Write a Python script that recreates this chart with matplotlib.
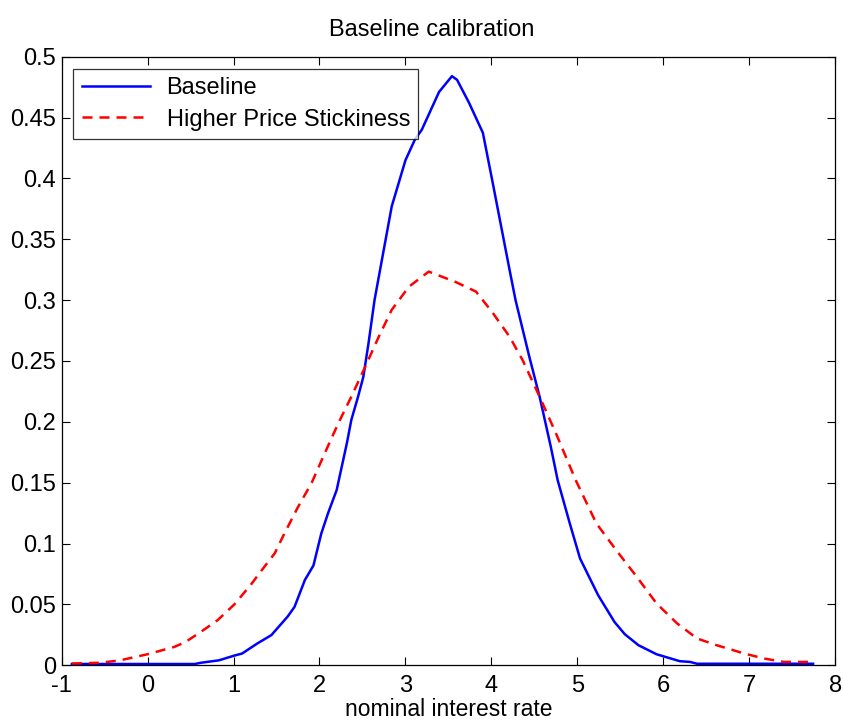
import matplotlib
matplotlib.use("Agg")
import matplotlib.pyplot as plt

# ----------- DATA -----------

rate_baseline = [-0.88, 0.55, 0.62, 0.83, 1.0, 1.1, 1.28, 1.44, 1.63, 1.71, 1.83, 1.93,
                 2.02, 2.10, 2.20, 2.32, 2.37, 2.45, 2.51, 2.57, 2.64, 2.84, 3.0, 3.11,
                 3.19, 3.39, 3.54, 3.6, 3.74, 3.9, 4.01, 4.21, 4.28, 4.44, 4.56, 4.69,
                 4.77, 4.91, 5.03, 5.24, 5.43, 5.55, 5.71, 5.92, 6.19, 6.31, 6.39, 7.74]
dens_baseline = [0.001, 0.001, 0.002, 0.004, 0.0077, 0.0096, 0.018, 0.0247, 0.040, 0.048,
                 0.070, 0.082, 0.108, 0.125, 0.144, 0.183, 0.2015, 0.221, 0.237, 0.2645,
                 0.30, 0.377, 0.415, 0.432, 0.44, 0.471, 0.484, 0.481, 0.462, 0.4375,
                 0.398, 0.325, 0.30, 0.2535, 0.2206, 0.1795, 0.152, 0.1167, 0.0877,
                 0.0576, 0.0356, 0.0255, 0.0164, 0.009, 0.0033, 0.0027, 0.0012, 0.0012]

rate_sticky = [-0.88, -0.55, -0.32, 0.0, 0.31, 0.44, 0.62, 0.815, 1.01, 1.20, 1.36, 1.48,
               1.59, 1.75, 1.91, 2.06, 2.22, 2.37, 2.53, 2.69, 2.84, 3.04, 3.27, 3.58,
               3.82, 4.01, 4.21, 4.36, 4.56, 4.75, 4.98, 5.22, 5.45, 5.69, 5.92, 6.16,
               6.39, 6.62, 6.94, 7.17, 7.40, 7.72]
dens_sticky = [0.0014, 0.002, 0.004, 0.009, 0.015, 0.019, 0.0274, 0.037, 0.050, 0.066,
               0.081, 0.092, 0.108, 0.130, 0.150, 0.174, 0.199, 0.2206, 0.245, 0.27,
               0.292, 0.311, 0.3234, 0.315, 0.307, 0.29, 0.27, 0.251, 0.2206, 0.1905,
               0.152, 0.1165, 0.0946, 0.0726, 0.0507, 0.0343, 0.022, 0.0164, 0.0096,
               0.0055, 0.0027, 0.0027]

x_ticks = [-1, 0, 1, 2, 3, 4, 5, 6, 7, 8]
y_ticks = [0, 0.05, 0.1, 0.15, 0.2, 0.25, 0.3, 0.35, 0.4, 0.45, 0.5]
y_ticklabels = ["0", "0.05", "0.1", "0.15", "0.2", "0.25", "0.3", "0.35", "0.4", "0.45", "0.5"]

# ----------- PLOT -----------

plt.rcParams["font.family"] = ["Liberation Sans", "DejaVu Sans"]

fig = plt.figure(figsize=(8.43, 7.27), dpi=100)
ax = fig.add_axes([0.073, 0.085, 0.918, 0.837])

ax.plot(rate_baseline, dens_baseline, color="#0000ff", lw=1.8, label="Baseline")
ax.plot(rate_sticky, dens_sticky, color="#ff0000", lw=1.8, linestyle=(0, (4.0, 2.8)),
        label="Higher Price Stickiness")

ax.set_xlim(-1, 8)
ax.set_ylim(0, 0.5)
ax.set_xticks(x_ticks)
ax.set_xticklabels([str(t) for t in x_ticks])
ax.set_yticks(y_ticks)
ax.set_yticklabels(y_ticklabels)
ax.tick_params(direction="in", top=True, right=True, labelsize=17, length=6, width=0.8)
ax.tick_params(axis="x", pad=7)
ax.tick_params(axis="y", pad=4)
for s in ax.spines.values():
    s.set_linewidth(0.9)

ax.set_xlabel("nominal interest rate", fontsize=16.5, labelpad=1)
ax.set_title("Baseline calibration", fontsize=17, pad=15, x=0.478)

leg = ax.legend(loc="upper left", fontsize=17, frameon=True, fancybox=False,
                handlelength=2.9, handletextpad=0.7, borderaxespad=0.5,
                borderpad=0.35, labelspacing=0.42)
leg.get_frame().set_edgecolor("black")
leg.get_frame().set_linewidth(0.9)

fig.savefig("out.png", dpi=100)
